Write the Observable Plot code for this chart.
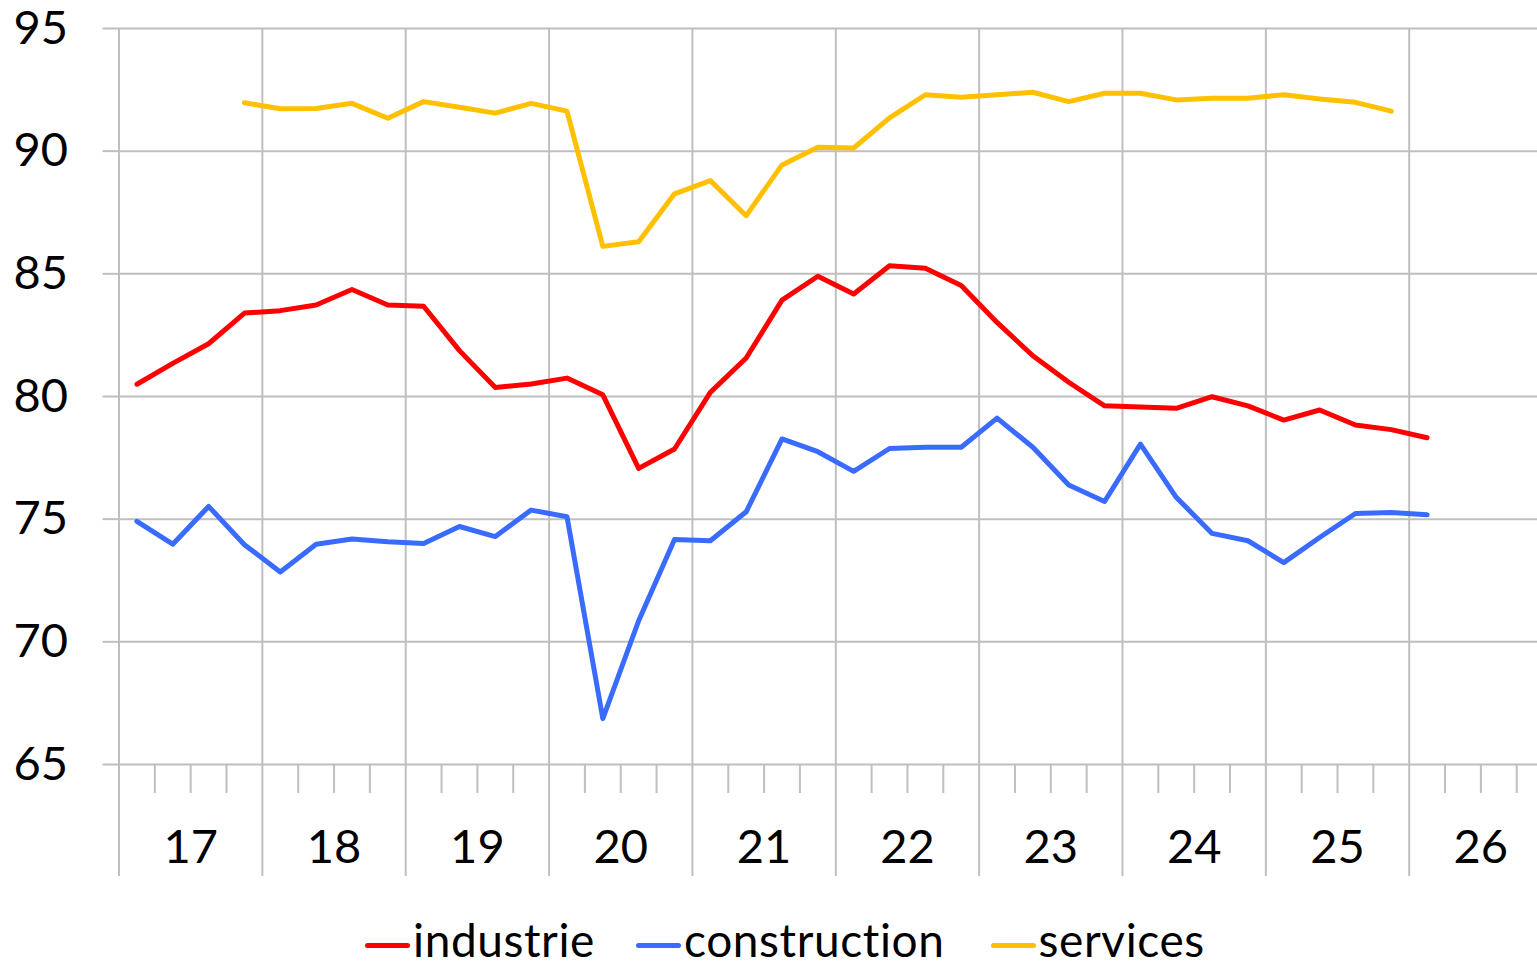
<!DOCTYPE html>
<html><head><meta charset="utf-8">
<script src="https://cdn.jsdelivr.net/npm/d3@7"></script>
<script src="https://cdn.jsdelivr.net/npm/@observablehq/plot@0.6"></script>
<style>
html,body{margin:0;padding:0;background:#fff;overflow:hidden;width:1537px;height:968px;}
#chart{position:absolute;left:0;top:0;}
#chart svg{overflow:visible;}
#legend{position:absolute;left:365px;top:912px;height:55px;display:flex;align-items:center;font-family:Lato;font-size:46px;line-height:55px;letter-spacing:0.6px;color:#000;white-space:nowrap;}
.item{display:flex;align-items:center;height:55px;}
.item span{display:inline-block;height:55px;line-height:55px;}
.sw{width:45px;height:5px;border-radius:3px;margin-right:3px;position:relative;top:6px;}
</style></head><body>
<div id="chart"></div><div id="legend"></div>
<script>
// ---- data (quarterly, first value's year/quarter given) ----
const seriesNames = ["industrie", "construction", "services"];
const seriesColors = ["#FF0000", "#3A6BFF", "#FFC000"];
const industrieStart = [2017, 1];
const industrie = [80.5, 81.35, 82.15, 83.4, 83.5, 83.73, 84.36, 83.73, 83.68, 81.87, 80.37, 80.51,
  80.75, 80.07, 77.07, 77.86, 80.17, 81.57, 83.93, 84.9, 84.18, 85.33, 85.23, 84.52,
  83.02, 81.66, 80.58, 79.62, 79.57, 79.52, 79.99, 79.62, 79.04, 79.45, 78.84, 78.65, 78.32];
const constructionStart = [2017, 1];
const construction = [74.91, 73.98, 75.52, 73.96, 72.85, 73.98, 74.19, 74.08, 74.01, 74.7, 74.29, 75.37,
  75.1, 66.87, 70.86, 74.17, 74.12, 75.3, 78.27, 77.75, 76.95, 77.88, 77.93, 77.93,
  79.12, 77.93, 76.39, 75.72, 78.06, 75.89, 74.42, 74.12, 73.23, 74.25, 75.23, 75.27, 75.18];
const servicesStart = [2017, 4];
const services = [91.97, 91.73, 91.74, 91.95, 91.34, 92.02, 91.79, 91.55, 91.95,
  91.63, 86.12, 86.31, 88.26, 88.8, 87.37, 89.44, 90.16, 90.13, 91.36, 92.3, 92.2,
  92.3, 92.4, 92.02, 92.36, 92.36, 92.09, 92.16, 92.16, 92.3, 92.13, 91.99, 91.63];

const years = [2017, 2018, 2019, 2020, 2021, 2022, 2023, 2024, 2025, 2026];
const yearLabels = ["17", "18", "19", "20", "21", "22", "23", "24", "25", "26"];
const yTicks = [65, 70, 75, 80, 85, 90, 95];

// ---- build table ----
function rows(name, start, values) {
  return values.map((v, i) => {
    const qi = (start[1] - 1) + i;
    return {series: name, x: start[0] + (qi + 0.5) / 4, value: v};
  });
}
const data = [
  ...rows("industrie", industrieStart, industrie),
  ...rows("construction", constructionStart, construction),
  ...rows("services", servicesStart, services)
];
const quarterTicks = years.flatMap(y => [y + 0.25, y + 0.5, y + 0.75]);
const yearMids = years.map(y => y + 0.5);

const GRID = "#BFBFBF";
const W = 1537, H = 900;
const chart = Plot.plot({
  width: W, height: H,
  marginLeft: 118.5, marginRight: 0, marginTop: 28, marginBottom: 136,
  style: {fontFamily: "Lato", fontSize: "47px", color: "#000", background: "#fff", overflow: "visible"},
  x: {domain: [2017, 2026.895], label: null},
  y: {domain: [65, 95], label: null},
  color: {domain: seriesNames, range: seriesColors},
  marks: [
    Plot.gridY(yTicks, {stroke: GRID, strokeOpacity: 1, strokeWidth: 2}),
    Plot.gridX(years, {stroke: GRID, strokeOpacity: 1, strokeWidth: 2}),
    Plot.axisY(yTicks, {tickSize: 16, tickPadding: 35, stroke: GRID, strokeWidth: 2, strokeOpacity: 1, fill: "#000", tickFormat: d => String(d), fontSize: 47}),
    Plot.axisX(years, {tickSize: 112, stroke: GRID, strokeWidth: 2, strokeOpacity: 1, tickFormat: () => ""}),
    Plot.axisX(quarterTicks, {tickSize: 29, stroke: GRID, strokeWidth: 2, strokeOpacity: 1, tickFormat: () => ""}),
    Plot.axisX(yearMids, {tickSize: 0, tickPadding: 65, fill: "#000", fontSize: 47, tickFormat: d => yearLabels[yearMids.indexOf(d)]}),
    Plot.line(data, {x: "x", y: "value", z: "series", stroke: "series", strokeWidth: 5, strokeLinejoin: "round", strokeLinecap: "round"})
  ]
});
document.getElementById("chart").appendChild(chart);

// ---- legend ----
const legend = document.getElementById("legend");
const gaps = [41, 46, 0];
seriesNames.forEach((n, i) => {
  const it = document.createElement("div");
  it.className = "item";
  it.style.marginRight = gaps[i] + "px";
  const sw = document.createElement("div");
  sw.className = "sw";
  sw.style.background = seriesColors[i];
  const t = document.createElement("span");
  t.textContent = n;
  it.appendChild(sw); it.appendChild(t);
  legend.appendChild(it);
});
</script></body></html>
